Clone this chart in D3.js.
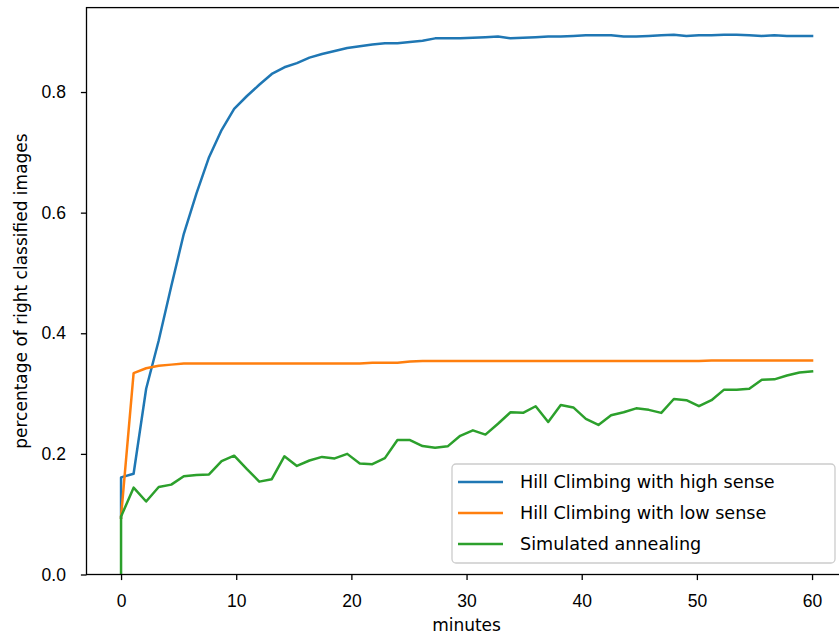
<!DOCTYPE html>
<html>
<head>
<meta charset="utf-8">
<script src="https://cdn.jsdelivr.net/npm/d3@7"></script>
<style>
  body { margin: 0; background: #fff; }
  svg { display: block; font-family: "DejaVu Sans", sans-serif; }
  .tick text { font-size: 17.5px; fill: #000; }
  .axis-label { font-size: 17px; fill: #000; }
  .legend-label { font-size: 17.6px; fill: #000; }
</style>
</head>
<body>
<svg id="chart"></svg>
<script>
const WIDTH = 839;
const HEIGHT = 634;
const PLOT = { left: 86.5, right: 846.6, top: 7.6, bottom: 574.5 };

// minutes (first point is doubled at 0)
const minutes = [0, 0, 1.09, 2.18, 3.27, 4.36, 5.45, 6.55, 7.64, 8.73, 9.82,
  10.91, 12.0, 13.09, 14.18, 15.27, 16.36, 17.45, 18.55, 19.64, 20.73,
  21.82, 22.91, 24.0, 25.09, 26.18, 27.27, 28.36, 29.45, 30.55, 31.64,
  32.73, 33.82, 34.91, 36.0, 37.09, 38.18, 39.27, 40.36, 41.45, 42.55,
  43.64, 44.73, 45.82, 46.91, 48.0, 49.09, 50.18, 51.27, 52.36, 53.45,
  54.55, 55.64, 56.73, 57.82, 58.91, 60.0];

const highSense = [0.094, 0.161, 0.167, 0.308, 0.388, 0.478, 0.565, 0.632, 0.692, 0.737, 0.772,
  0.793, 0.812, 0.830, 0.841, 0.848, 0.857, 0.863, 0.868, 0.873, 0.876,
  0.879, 0.881, 0.881, 0.883, 0.885, 0.889, 0.889, 0.889, 0.890, 0.891,
  0.892, 0.889, 0.890, 0.891, 0.892, 0.892, 0.893, 0.894, 0.894, 0.894,
  0.892, 0.892, 0.893, 0.894, 0.895, 0.893, 0.894, 0.894, 0.895, 0.895,
  0.894, 0.893, 0.894, 0.893, 0.893, 0.893];

const lowSense = [0.094, 0.096, 0.334, 0.342, 0.346, 0.348, 0.350, 0.350, 0.350, 0.350, 0.350,
  0.350, 0.350, 0.350, 0.350, 0.350, 0.350, 0.350, 0.350, 0.350, 0.350,
  0.351, 0.351, 0.351, 0.353, 0.354, 0.354, 0.354, 0.354, 0.354, 0.354,
  0.354, 0.354, 0.354, 0.354, 0.354, 0.354, 0.354, 0.354, 0.354, 0.354,
  0.354, 0.354, 0.354, 0.354, 0.354, 0.354, 0.354, 0.355, 0.355, 0.355,
  0.355, 0.355, 0.355, 0.355, 0.355, 0.355];

const annealing = [0, 0.096, 0.144, 0.121, 0.145, 0.149, 0.163, 0.165, 0.166, 0.188, 0.197,
  0.175, 0.154, 0.158, 0.196, 0.180, 0.189, 0.195, 0.1925, 0.200, 0.184,
  0.183, 0.193, 0.223, 0.223, 0.213, 0.210, 0.2125, 0.230, 0.239, 0.232,
  0.250, 0.269, 0.268, 0.279, 0.253, 0.281, 0.277, 0.258, 0.248, 0.264,
  0.269, 0.2755, 0.273, 0.268, 0.291, 0.289, 0.279, 0.289, 0.3065, 0.3065,
  0.308, 0.323, 0.3236, 0.330, 0.335, 0.337];

const seriesNames = ["Hill Climbing with high sense", "Hill Climbing with low sense", "Simulated annealing"];
const seriesColors = ["#1f77b4", "#ff7f0e", "#2ca02c"];
const seriesValues = [highSense, lowSense, annealing];

const xTicks = [0, 10, 20, 30, 40, 50, 60];
const yTicks = [0.0, 0.2, 0.4, 0.6, 0.8];

const x = d3.scaleLinear().domain([-3, 63]).range([PLOT.left, PLOT.right]);
const y = d3.scaleLinear().domain([0, 0.94]).range([PLOT.bottom, PLOT.top]);

const svg = d3.select("#chart")
  .attr("width", WIDTH)
  .attr("height", HEIGHT)
  .attr("viewBox", `0 0 ${WIDTH} ${HEIGHT}`);

const line = d3.line()
  .x(d => x(d[0]))
  .y(d => y(d[1]));

const clip = svg.append("defs").append("clipPath").attr("id", "plot-clip");
clip.append("rect")
  .attr("x", PLOT.left).attr("y", PLOT.top)
  .attr("width", PLOT.right - PLOT.left)
  .attr("height", PLOT.bottom - PLOT.top);

const lines = svg.append("g").attr("clip-path", "url(#plot-clip)");
seriesValues.forEach((vals, i) => {
  lines.append("path")
    .datum(vals.map((v, j) => [minutes[j], v]))
    .attr("fill", "none")
    .attr("stroke", seriesColors[i])
    .attr("stroke-width", 2.5)
    .attr("stroke-linejoin", "round")
    .attr("stroke-linecap", "square")
    .attr("d", line);
});

// axes
const xAxis = svg.append("g")
  .attr("transform", `translate(0,${PLOT.bottom})`)
  .call(d3.axisBottom(x).tickValues(xTicks).tickSize(5.6).tickPadding(14).tickFormat(d3.format("d")));
xAxis.select(".domain").remove();
xAxis.selectAll(".tick line").attr("stroke", "#000").attr("stroke-width", 1.3);

const yAxis = svg.append("g")
  .attr("transform", `translate(${PLOT.left},0)`)
  .call(d3.axisLeft(y).tickValues(yTicks).tickSize(5.6).tickPadding(15).tickFormat(d3.format(".1f")));
yAxis.select(".domain").remove();
yAxis.selectAll(".tick line").attr("stroke", "#000").attr("stroke-width", 1.3);
svg.selectAll(".tick text").attr("font-family", null).attr("font-size", null);

// spines
svg.append("rect")
  .attr("x", PLOT.left).attr("y", PLOT.top)
  .attr("width", PLOT.right - PLOT.left)
  .attr("height", PLOT.bottom - PLOT.top)
  .attr("fill", "none")
  .attr("stroke", "#000")
  .attr("stroke-width", 1.3);

svg.append("text")
  .attr("class", "axis-label")
  .attr("x", (x(0) + x(60)) / 2)
  .attr("y", 631)
  .attr("text-anchor", "middle")
  .text("minutes");

svg.append("text")
  .attr("class", "axis-label")
  .attr("transform", `translate(27,${(PLOT.top + PLOT.bottom) / 2}) rotate(-90)`)
  .attr("text-anchor", "middle")
  .text("percentage of right classified images");

// legend
const lg = svg.append("g").attr("transform", "translate(452,464)");
lg.append("rect")
  .attr("width", 383)
  .attr("height", 99)
  .attr("rx", 4)
  .attr("fill", "#fff")
  .attr("fill-opacity", 0.8)
  .attr("stroke", "#cccccc")
  .attr("stroke-width", 1.3);

seriesNames.forEach((name, i) => {
  const rowY = 18 + i * 31;
  lg.append("line")
    .attr("x1", 6).attr("x2", 51)
    .attr("y1", rowY).attr("y2", rowY)
    .attr("stroke", seriesColors[i])
    .attr("stroke-width", 2.5);
  lg.append("text")
    .attr("class", "legend-label")
    .attr("x", 68)
    .attr("y", rowY + 6)
    .text(name);
});
</script>
</body>
</html>
